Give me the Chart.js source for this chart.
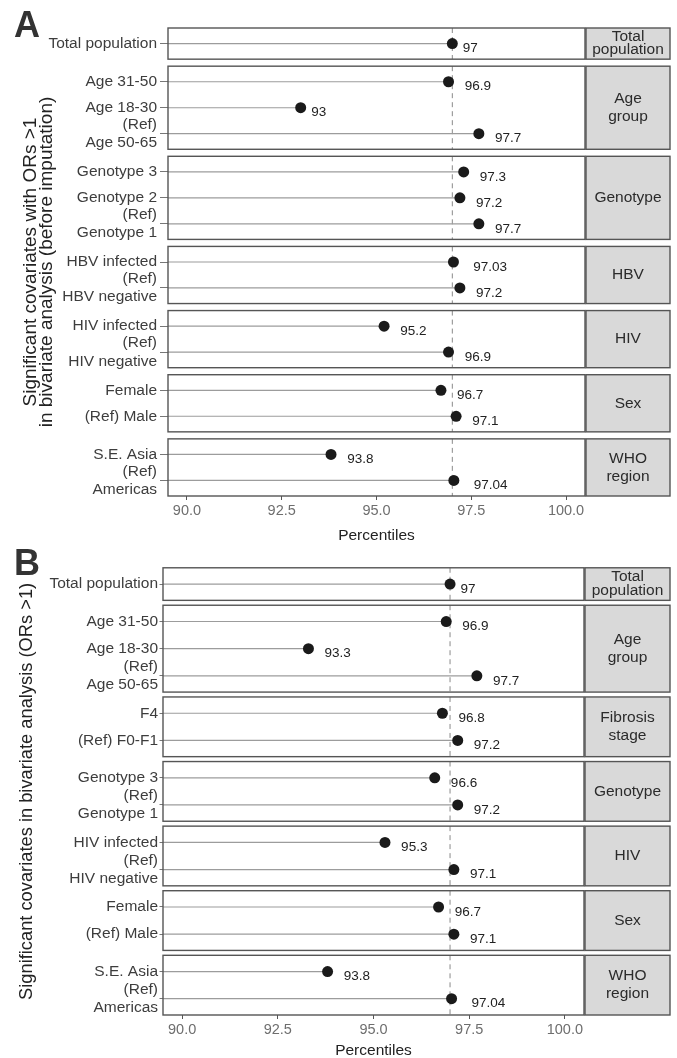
<!DOCTYPE html>
<html>
<head>
<meta charset="utf-8">
<script src="https://cdn.jsdelivr.net/npm/chart.js@4"></script>
<style>
  html, body { margin: 0; padding: 0; background: #fff; overflow: hidden; }
  #wrap { position: relative; width: 677px; height: 1058px; }
  canvas { position: absolute; left: 0; }
  .tag { position: absolute; font: bold 36px "Liberation Sans", Arial, sans-serif; line-height: 36px; color: #333; }
</style>
</head>
<body>
<div id="wrap">
  <canvas id="graficoA" width="677" height="548" style="top:0"></canvas>
  <canvas id="graficoB" width="677" height="510" style="top:548px"></canvas>
  <div class="tag" style="left:14px; top:7px">A</div>
  <div class="tag" style="left:14px; top:545px">B</div>
</div>
<script>
// eixo x (percentis)
const X_TICKS = [90, 92.5, 95, 97.5, 100];
const X_MIN = 89.5;
const X_MAX = 100.5;

// painel A - antes da imputacao
const facetasA = ['Total\npopulation', 'Age\ngroup', 'Genotype', 'HBV', 'HIV', 'Sex', 'WHO\nregion'];
const categoriasA = [
  ['Total population'],
  ['Age 31-50', 'Age 18-30', '(Ref)\nAge 50-65'],
  ['Genotype 3', 'Genotype 2', '(Ref)\nGenotype 1'],
  ['HBV infected', '(Ref)\nHBV negative'],
  ['HIV infected', '(Ref)\nHIV negative'],
  ['Female', '(Ref) Male'],
  ['S.E. Asia', '(Ref)\nAmericas']
];
const valoresA = [[97], [96.9, 93, 97.7], [97.3, 97.2, 97.7], [97.03, 97.2], [95.2, 96.9], [96.7, 97.1], [93.8, 97.04]];

// painel B
const facetasB = ['Total\npopulation', 'Age\ngroup', 'Fibrosis\nstage', 'Genotype', 'HIV', 'Sex', 'WHO\nregion'];
const categoriasB = [
  ['Total population'],
  ['Age 31-50', 'Age 18-30', '(Ref)\nAge 50-65'],
  ['F4', '(Ref) F0-F1'],
  ['Genotype 3', '(Ref)\nGenotype 1'],
  ['HIV infected', '(Ref)\nHIV negative'],
  ['Female', '(Ref) Male'],
  ['S.E. Asia', '(Ref)\nAmericas']
];
const valoresB = [[97], [96.9, 93.3, 97.7], [96.8, 97.2], [96.6, 97.2], [95.3, 97.1], [96.7, 97.1], [93.8, 97.04]];

const FONTE = '"Liberation Sans", Arial, sans-serif';
Chart.defaults.font.family = FONTE;

function montarPosicoes(categorias, gap) {
  const linhas = [];
  const facetas = [];
  let y = 0;
  categorias.forEach((cats, f) => {
    const inicio = y;
    y += 0.6;
    cats.forEach((c, i) => {
      linhas.push({ pos: y, label: c, faceta: f });
      if (i < cats.length - 1) y += 1;
    });
    y += 0.6;
    facetas.push({ inicio, fim: y });
    y += gap;
  });
  return { linhas, facetas, total: y - gap };
}

function criarGrafico(id, cfg) {
  const { linhas, facetas, total } = montarPosicoes(cfg.categorias, cfg.gap);
  const valores = cfg.valores.flat();
  const referencia = cfg.valores[0][0];
  const canvas = document.getElementById(id);

  const segmentos = linhas.map((l, k) => ({
    data: [{ x: X_MIN, y: l.pos }, { x: valores[k], y: l.pos }],
    showLine: true,
    borderColor: '#9c9c9c',
    borderWidth: 1.2,
    pointRadius: 0,
    order: 2
  }));
  const pontos = {
    data: linhas.map((l, k) => ({ x: valores[k], y: l.pos })),
    backgroundColor: '#1a1a1a',
    borderWidth: 0,
    pointRadius: 5.5,
    order: 1
  };

  const facetasPlugin = {
    id: 'facetas',
    beforeDatasetsDraw(chart) {
      const { ctx, chartArea: a, scales: { x, y } } = chart;
      const xr = x.getPixelForValue(referencia);
      ctx.save();
      facetas.forEach(f => {
        const t = y.getPixelForValue(f.inicio);
        const b = y.getPixelForValue(f.fim);
        ctx.fillStyle = '#fff';
        ctx.fillRect(a.left, t, a.right - a.left, b - t);
        ctx.strokeStyle = '#8a8a8a';
        ctx.lineWidth = 1;
        ctx.setLineDash([5, 4]);
        ctx.beginPath();
        ctx.moveTo(xr, t);
        ctx.lineTo(xr, b);
        ctx.stroke();
        ctx.setLineDash([]);
      });
      ctx.restore();
    },
    afterDatasetsDraw(chart) {
      const { ctx, chartArea: a, scales: { x, y } } = chart;
      ctx.save();
      // rotulos dos valores
      ctx.font = '13.5px ' + FONTE;
      ctx.fillStyle = '#222';
      ctx.textAlign = 'left';
      ctx.textBaseline = 'middle';
      linhas.forEach((l, k) => {
        const txt = String(valores[k]);
        const w = ctx.measureText(txt).width;
        ctx.fillText(txt, x.getPixelForValue(valores[k]) + w * 0.5 + 3, y.getPixelForValue(l.pos) + 5);
      });
      // bordas e faixas laterais
      const sx = a.right + 1;
      const sw = chart.width - 7 - sx;
      facetas.forEach((f, i) => {
        const t = y.getPixelForValue(f.inicio);
        const b = y.getPixelForValue(f.fim);
        ctx.strokeStyle = '#555';
        ctx.lineWidth = 1.4;
        ctx.strokeRect(a.left, t, a.right - a.left, b - t);
        ctx.fillStyle = '#d9d9d9';
        ctx.fillRect(sx, t, sw, b - t);
        ctx.strokeRect(sx, t, sw, b - t);
        const partes = cfg.facetas[i].split('\n');
        const lh = Math.min(18, (b - t) / partes.length * 0.85);
        ctx.font = '15.5px ' + FONTE;
        ctx.fillStyle = '#2b2b2b';
        ctx.textAlign = 'center';
        ctx.textBaseline = 'middle';
        partes.forEach((p, j) => {
          ctx.fillText(p, sx + sw / 2, (t + b) / 2 + (j - (partes.length - 1) / 2) * lh);
        });
      });
      ctx.restore();
    }
  };

  return new Chart(canvas, {
    type: 'scatter',
    data: { datasets: [pontos, ...segmentos] },
    plugins: [facetasPlugin],
    options: {
      responsive: false,
      animation: false,
      layout: { padding: { left: 0, right: canvas.width - cfg.direita, top: cfg.topo, bottom: 0 } },
      plugins: { legend: { display: false }, tooltip: { enabled: false } },
      scales: {
        x: {
          type: 'linear',
          min: X_MIN,
          max: X_MAX,
          afterBuildTicks: s => { s.ticks = X_TICKS.map(v => ({ value: v })); },
          afterFit: s => { s.height = cfg.alturaX; },
          ticks: { callback: v => v.toFixed(1), color: '#6e6e6e', font: { size: 14.5 }, padding: 2, maxRotation: 0, autoSkip: false },
          grid: { drawOnChartArea: false, tickLength: 4, tickColor: '#555' },
          border: { display: false },
          title: { display: true, text: 'Percentiles', color: '#222', font: { size: 15.5, lineHeight: 1 }, padding: { top: 0, bottom: cfg.padTituloX } }
        },
        y: {
          type: 'linear',
          reverse: true,
          min: 0,
          max: total,
          afterBuildTicks: s => { s.ticks = linhas.map(l => ({ value: l.pos })); },
          afterFit: s => { s.width = cfg.esquerda; },
          ticks: { callback: (v, i) => linhas[i].label.split('\n'), color: '#3d3d3d', font: { size: 15.5, lineHeight: 1.18 }, padding: cfg.padTick, autoSkip: false },
          grid: { drawOnChartArea: false, tickLength: cfg.tamTick, tickColor: '#777' },
          border: { display: false },
          title: { display: true, text: cfg.tituloY, color: '#222', font: { size: cfg.tamTituloY, lineHeight: '16px' }, padding: { top: cfg.padTituloY, bottom: 0 } }
        }
      }
    }
  });
}

criarGrafico('graficoA', {
  categorias: categoriasA, valores: valoresA, facetas: facetasA,
  tituloY: ['Significant covariates with ORs >1', 'in bivariate analysis (before imputation)'],
  gap: 0.27, esquerda: 168, direita: 585, topo: 28, alturaX: 52, padTituloX: 5, padTick: 3, tamTick: 8, padTituloY: 23, tamTituloY: 19
});

criarGrafico('graficoB', {
  categorias: categoriasB, valores: valoresB, facetas: facetasB,
  tituloY: 'Significant covariates in bivariate analysis (ORs >1)',
  gap: 0.18, esquerda: 163, direita: 584, topo: 14, alturaX: 43, padTituloX: 0, padTick: 1.5, tamTick: 3.5, padTituloY: 18.5, tamTituloY: 18.3
});
</script>
</body>
</html>
